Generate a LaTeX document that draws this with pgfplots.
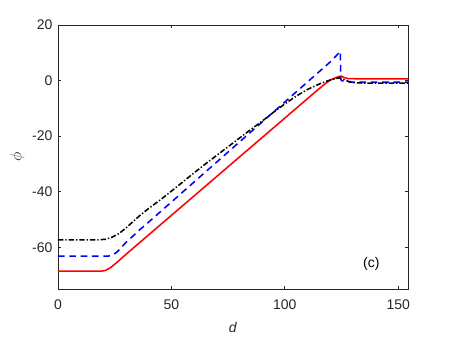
\documentclass[border=0pt]{standalone}
\usepackage{pgfplots}
\pgfplotsset{compat=1.18}
\usepackage{fontspec}
\setmainfont{Liberation Sans}
\definecolor{axgray}{rgb}{0.15,0.15,0.15}

\begin{document}
\fontsize{10.5}{12}\selectfont
\begin{tikzpicture}
\begin{axis}[
  at={(0,0)}, anchor=south west,
  scale only axis, width=262.5pt, height=198pt,
  xmin=0, xmax=154.3, ymin=-75, ymax=20,
  xtick={0,50,100,150}, xticklabels={0,50,100,150},
  ytick={-60,-40,-20,0,20}, yticklabels={-60,-40,-20,0,20},
  xticklabel shift=4.5pt, yticklabel shift=0.5pt,
  tick align=inside, major tick length=2.6pt,
  axis line style={axgray, line width=0.6pt},
  every tick/.style={axgray, line width=0.6pt},
  tick label style={axgray},
  xlabel={\textit{d}}, ylabel={\large$\phi$},
  xlabel style={at={(axis description cs:0.5,-0.144)}, anchor=center, axgray},
  ylabel style={at={(axis description cs:-0.116,0.5)}, anchor=center, axgray},
]
\addplot[red, line width=1.15pt] coordinates {
 (0,-68.6)(19,-68.6)(21,-68.3)(23,-67.4)(25,-66.1)(27,-64.7)(30,-62.5)(35,-59)
 (45,-52)(60,-41.5)(75,-31)(90,-20.5)(100,-13.5)(110,-6.5)(115,-3)(118,-1)
 (120,0.2)(122,0.9)(124,1.5)(125,1.6)(126,1.1)(128,0.7)(135,0.6)(155,0.6)};
\addplot[blue, line width=1.15pt, dash pattern=on 5pt off 3.5pt] coordinates {
 (0,-63.2)(22,-63.2)(24,-62.8)(26,-61.7)(28,-60)(30,-58.2)(33,-56)(36,-53.7)
 (40,-50.9)(45,-47.3)(50,-43.7)(60,-36.5)(70,-29.3)(80,-22.1)(90,-14.9)
 (100,-7.7)(110,-0.5)(120,6.7)(124.5,10.5)(124.6,0.5)(125,0)(127,-0.4)
 (130,-0.6)(155,-0.6)};
\addplot[black, line width=1.15pt, dash pattern=on 4pt off 1.5pt on 1pt off 1.5pt] coordinates {
 (0,-57.3)(18,-57.3)(21,-57.1)(24,-56.3)(27,-55)(30,-53)(33,-50.8)(36,-48.6)
 (40,-46)(45,-43)(50,-39.8)(55,-36.5)(60,-33.2)(65,-30)(70,-26.9)(75,-23.8)
 (80,-20.7)(85,-17.6)(90,-14.6)(95,-11.4)(100,-8.4)(105,-5.6)(110,-3.2)
 (115,-1.3)(118,-0.3)(121,0.4)(123,0.8)(124,1.0)(125,0.7)(127,0)(129,-0.5)
 (131,-0.8)(135,-0.9)(145,-0.9)(155,-0.9)};
\node[text=black] at (axis cs:138.1,-66.1) {(c)};
\end{axis}
\pgfresetboundingbox
\path[use as bounding box] (-43.5pt,-36.75pt) rectangle (294pt,216.75pt);
\end{tikzpicture}
\end{document}
